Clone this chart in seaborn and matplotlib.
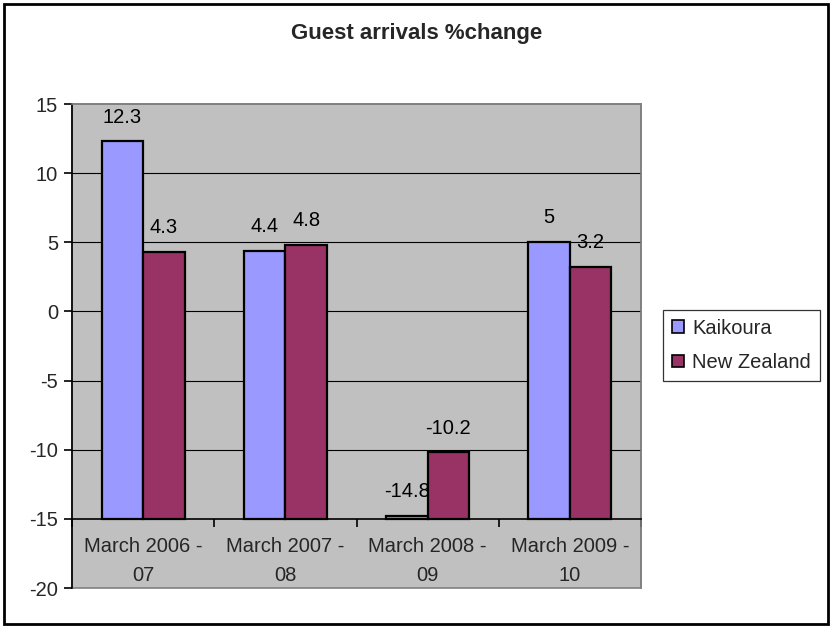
import matplotlib
matplotlib.use("Agg")
import matplotlib.pyplot as plt
from matplotlib.patches import Rectangle
import seaborn as sns
import pandas as pd

# Period labels and % change in guest arrivals
periods = ["March 2006 -\n07", "March 2007 -\n08", "March 2008 -\n09", "March 2009 -\n10"]
kaikoura = [12.3, 4.4, -14.8, 5]
new_zealand = [4.3, 4.8, -10.2, 3.2]
series_names = ["Kaikoura", "New Zealand"]
series_colors = ["#9999FF", "#993366"]
y_ticks = [15, 10, 5, 0, -5, -10, -15, -20]

BASE = -15  # category axis crosses the value axis here
FS = 14.5

df = pd.DataFrame({
    "period": periods * 2,
    "series": [series_names[0]] * len(periods) + [series_names[1]] * len(periods),
    "value": kaikoura + new_zealand,
})

sns.set_theme(style="white")
plt.rcParams["font.family"] = ["Liberation Sans", "DejaVu Sans"]

fig = plt.figure(figsize=(8.33, 6.26), dpi=100)
ax = fig.add_axes([72 / 833, 1 - 588 / 626, (641 - 72) / 833, (588 - 104) / 626])

sns.barplot(data=df, x="period", y="value", hue="series", order=periods,
            hue_order=series_names, palette=series_colors, width=0.585,
            edgecolor="black", linewidth=1.6, saturation=1, ax=ax, zorder=3)

# bars rise from the category axis at -15 rather than from zero
for container in ax.containers:
    for bar in container:
        top = bar.get_y() + bar.get_height()
        bar.set_y(BASE)
        bar.set_height(top - BASE)
        ax.annotate(f"{top:g}", (bar.get_x() + bar.get_width() / 2, top),
                    xytext=(0, 17.5), textcoords="offset points",
                    ha="center", va="center", fontsize=FS, color="black",
                    zorder=5)

ax.set_ylim(-20, 15)
ax.set_xlim(-0.5, len(periods) - 0.5)
ax.set_facecolor("#C0C0C0")
ax.patch.set_edgecolor("#808080")
ax.patch.set_linewidth(1.2)

ax.set_yticks(y_ticks)
ax.set_yticklabels([f"{t:g}" for t in y_ticks], fontsize=FS)
for t in y_ticks:
    if -15 < t < 15:
        ax.axhline(t, color="black", linewidth=0.8, zorder=1)

ax.spines["bottom"].set_position(("data", BASE))
ax.spines["bottom"].set_color("black")
ax.spines["bottom"].set_linewidth(1.2)
ax.spines["bottom"].set_zorder(4)
ax.spines["left"].set_color("black")
ax.spines["left"].set_linewidth(1.2)
for s in ["top", "right"]:
    ax.spines[s].set_color("#808080")
    ax.spines[s].set_linewidth(1.2)

ax.set_xticks(range(len(periods)))
ax.set_xticklabels(periods, fontsize=FS, linespacing=1.65)
ax.set_xticks([i - 0.5 for i in range(len(periods) + 1)], minor=True)
ax.tick_params(axis="x", which="major", length=0, pad=13)
ax.tick_params(axis="x", which="minor", length=6, width=1.2, color="black",
               direction="out", bottom=True)
ax.tick_params(axis="y", length=6, width=1.2, color="black", direction="out",
               left=True, pad=4)
ax.set_xlabel("")
ax.set_ylabel("")

fig.text(0.5, 1 - 34 / 626, "Guest arrivals %change", ha="center", va="center",
         fontsize=16, fontweight="bold")

sns.move_legend(ax, "center", bbox_to_anchor=(741.5 / 833, 1 - 345.5 / 626),
                bbox_transform=fig.transFigure, title=None, fontsize=FS,
                frameon=True, fancybox=False, edgecolor="black",
                handlelength=0.6, handleheight=0.6, handletextpad=0.4,
                borderpad=0.45, labelspacing=0.75, borderaxespad=0)
leg = ax.get_legend()
leg.get_frame().set_linewidth(0.9)
for h in leg.legend_handles:
    h.set_edgecolor("black")
    h.set_linewidth(1.2)

fig.patches.append(Rectangle((4 / 833, 2 / 626), 824 / 833, 620 / 626,
                             transform=fig.transFigure, fill=False,
                             edgecolor="black", linewidth=2))

fig.savefig("out.png", dpi=100, facecolor="white")
